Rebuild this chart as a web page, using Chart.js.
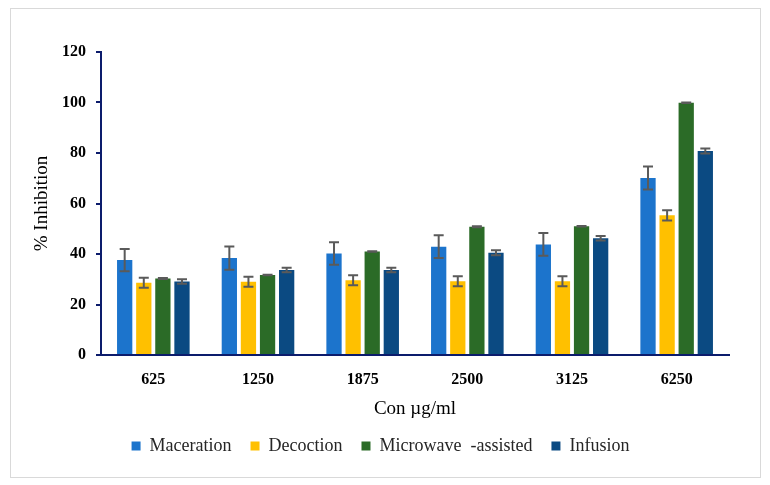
<!DOCTYPE html>
<html>
<head>
<meta charset="utf-8">
<script src="https://cdn.jsdelivr.net/npm/chart.js@4.4.0/dist/chart.umd.min.js"></script>
<style>
    html, body { margin: 0; padding: 0; background: #fff; }
    #wrap { position: relative; width: 770px; height: 485px; }
    #frame { position: absolute; left: 10px; top: 8px; width: 749px; height: 468px; border: 1px solid #d9d9d9; pointer-events: none; }
    canvas { position: absolute; left: 0; top: 0; }
</style>
</head>
<body>
<div id="wrap">
    <canvas id="chart" width="770" height="485"></canvas>
    <div id="frame"></div>
</div>
<script>
// concentrations (µg/ml)
const categories = ['625', '1250', '1875', '2500', '3125', '6250'];
const seriesNames = ['Maceration', 'Decoction', 'Microwave  -assisted', 'Infusion'];

// % inhibition per extraction method
const maceration = [37.6, 38.4, 40.2, 42.9, 43.8, 70.1];
const decoction = [28.6, 29.0, 29.6, 29.2, 29.2, 55.3];
const microwave = [30.3, 31.7, 41.0, 50.8, 51.0, 99.9];
const infusion = [29.1, 33.7, 33.7, 40.5, 46.2, 80.8];

// standard deviations (error bars)
const macerationErr = [4.4, 4.6, 4.5, 4.5, 4.5, 4.6];
const decoctionErr = [2.0, 2.0, 2.0, 2.0, 2.0, 2.0];
const microwaveErr = [0.2, 0.1, 0.1, 0.2, 0.1, 0.1];
const infusionErr = [0.9, 0.9, 0.9, 1.0, 0.9, 1.0];

const yTicks = [0, 20, 40, 60, 80, 100, 120];

const colors = ['#1c74cc', '#ffc000', '#2b6b27', '#0b4a82'];
const axisColor = '#0c1c6c';

const errorBars = {
    id: 'errorBars',
    afterDatasetsDraw(chart) {
        const ctx = chart.ctx;
        const y = chart.scales.y;
        ctx.save();
        ctx.strokeStyle = '#5a5a5a';
        ctx.lineWidth = 2;
        chart.data.datasets.forEach((ds, i) => {
            const meta = chart.getDatasetMeta(i);
            meta.data.forEach((bar, j) => {
                const v = ds.data[j];
                const e = ds.errors[j];
                const top = y.getPixelForValue(v + e);
                const bottom = y.getPixelForValue(v - e);
                const cap = 5;
                ctx.beginPath();
                ctx.moveTo(bar.x, top);
                ctx.lineTo(bar.x, bottom);
                ctx.moveTo(bar.x - cap, top);
                ctx.lineTo(bar.x + cap, top);
                ctx.moveTo(bar.x - cap, bottom);
                ctx.lineTo(bar.x + cap, bottom);
                ctx.stroke();
            });
        });
        ctx.restore();
    }
};

// nudge the legend a bit to the right, like the original
const legendShift = {
    id: 'legendShift',
    afterLayout(chart) {
        if (!chart.legend) return;
        chart.legend.left += 10;
        chart.legend.right += 10;
    }
};

const values = [maceration, decoction, microwave, infusion];
const errors = [macerationErr, decoctionErr, microwaveErr, infusionErr];

new Chart(document.getElementById('chart'), {
    type: 'bar',
    data: {
        labels: categories,
        datasets: seriesNames.map((name, i) => ({
            label: name,
            data: values[i],
            errors: errors[i],
            backgroundColor: colors[i],
            categoryPercentage: 0.73,
            barPercentage: 0.8
        }))
    },
    plugins: [errorBars, legendShift],
    options: {
        responsive: false,
        animation: false,
        devicePixelRatio: 1,
        layout: { padding: { left: 12, right: 41, top: 52, bottom: 20 } },
        plugins: {
            legend: {
                position: 'bottom',
                labels: {
                    boxWidth: 9,
                    boxHeight: 9,
                    padding: 19,
                    color: '#262626',
                    font: { family: 'Liberation Serif', size: 18 }
                }
            },
            tooltip: { enabled: false }
        },
        scales: {
            x: {
                afterFit: (scale) => { scale.height = 63; },
                grid: { drawOnChartArea: false, drawTicks: false },
                border: { color: axisColor, width: 2 },
                ticks: {
                    padding: 15,
                    color: '#000',
                    font: { family: 'Liberation Serif', size: 16, weight: 'bold' }
                },
                title: {
                    display: true,
                    text: 'Con µg/ml',
                    color: '#000',
                    padding: { top: 0, bottom: -2 },
                    font: { family: 'Liberation Serif', size: 19 }
                }
            },
            y: {
                min: 0,
                max: 120,
                afterFit: (scale) => { scale.width = 89; },
                afterBuildTicks: (scale) => { scale.ticks = yTicks.map(v => ({ value: v })); },
                grid: { drawOnChartArea: false, drawTicks: true, tickLength: 5, color: axisColor, lineWidth: 2 },
                border: { color: axisColor, width: 2 },
                ticks: {
                    padding: 10,
                    color: '#000',
                    font: { family: 'Liberation Serif', size: 16, weight: 'bold' }
                },
                title: {
                    display: true,
                    text: '% Inhibition',
                    color: '#000',
                    padding: { top: 19, bottom: 0 },
                    font: { family: 'Liberation Serif', size: 19 }
                }
            }
        }
    }
});
</script>
</body>
</html>
